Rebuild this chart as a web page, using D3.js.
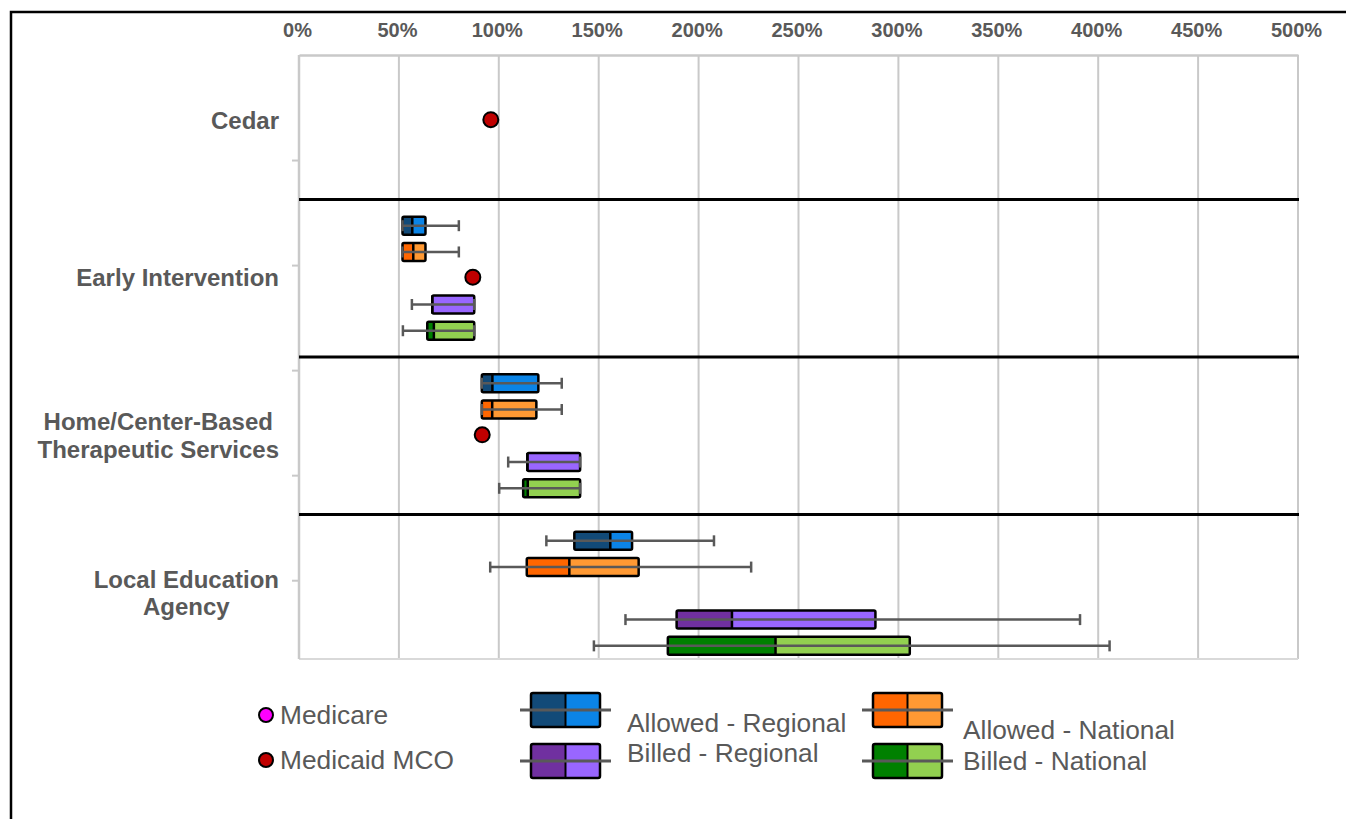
<!DOCTYPE html>
<html>
<head>
<meta charset="utf-8">
<script src="https://cdn.jsdelivr.net/npm/d3@7"></script>
<style>
  html, body { margin: 0; padding: 0; background: #fff; }
  svg { display: block; font-family: "Liberation Sans", Arial, sans-serif; }
</style>
</head>
<body>
<svg id="chart" width="1346" height="819"></svg>
<script>
// Service categories (one block of rows each)
const groups = ["Cedar", "Early Intervention", "Home/Center-Based Therapeutic Services", "Local Education Agency"];
const groupLabelLines = [["Cedar"], ["Early Intervention"], ["Home/Center-Based", "Therapeutic Services"], ["Local Education", "Agency"]];

// Box series: [min, q1, median, q3, max] in percent, one entry per group (null = no data)
const seriesNames = ["Allowed - Regional", "Allowed - National", "Billed - Regional", "Billed - National"];
const allowedRegional = [null, [51.8, 51.8, 56.7, 63.3, 80], [91.5, 91.5, 96.8, 119.8, 131.5], [123.8, 137.8, 155.8, 166.7, 207.7]];
const allowedNational = [null, [51.7, 51.8, 57.2, 63.3, 80], [91.5, 91.5, 96.7, 118.8, 131.5], [95.7, 114, 135.3, 170, 226.3]];
const billedRegional  = [null, [56.5, 66.7, 66.7, 87.7, 87.7], [104.7, 114.3, 114.3, 140.7, 140.7], [163.4, 189, 216.7, 288.5, 390.9]];
const billedNational  = [null, [52, 64.2, 67.5, 87.7, 87.7], [100.2, 112.2, 114.5, 140.7, 140.7], [147.6, 184.6, 238.5, 305.7, 405.7]];

// Point series, percent per group
const medicare = [null, null, null, null];
const medicaidMCO = [96, 87, 91.7, null];

// Axis ticks
const xTicks = [0, 50, 100, 150, 200, 250, 300, 350, 400, 450, 500];

// Colours: [dark (q1-median), light (median-q3)]
const boxColors = {
  "Allowed - Regional": ["#124a78", "#0b84e6"],
  "Allowed - National": ["#ff6600", "#ff9933"],
  "Billed - Regional":  ["#7030a0", "#9966ff"],
  "Billed - National":  ["#008000", "#92d050"]
};
const seriesData = [allowedRegional, allowedNational, billedRegional, billedNational];
// row offset within each group block: boxes at 0,1,3,4 ; points at 2
const seriesRow = [0, 1, 3, 4];

const svg = d3.select("#chart");
const textGrey = "#595959";
const gridGrey = "#c9c9c9";

// Outer frame
svg.append("rect").attr("x", 11).attr("y", 12).attr("width", 1400).attr("height", 900)
  .attr("fill", "none").attr("stroke", "#000").attr("stroke-width", 2.5);

const x = d3.scaleLinear().domain([0, 500]).range([299, 1298]);
const y = d3.scaleLinear().domain([-0.5, 22.5]).range([55, 659]);
const rowOf = (g, r) => g * 6 + r;

// Vertical gridlines
svg.append("g").selectAll("line").data(xTicks.slice(1)).join("line")
  .attr("x1", d => x(d)).attr("x2", d => x(d))
  .attr("y1", 55).attr("y2", 659)
  .attr("stroke", gridGrey).attr("stroke-width", 2);

// Bottom edge of plot
svg.append("line").attr("x1", 299).attr("x2", 1298).attr("y1", 659).attr("y2", 659)
  .attr("stroke", "#d9d9d9").attr("stroke-width", 2);

// Top axis
const xAxis = d3.axisTop(x).tickValues(xTicks).tickFormat(d => d + "%").tickSize(0).tickPadding(18);
const gx = svg.append("g").attr("transform", "translate(0,55)").call(xAxis);
gx.select(".domain").attr("stroke", gridGrey).attr("stroke-width", 2.5);
gx.selectAll("text").attr("fill", textGrey).attr("font-size", 20).attr("font-weight", "bold")
  .attr("font-family", "'Liberation Sans', Arial, sans-serif").attr("dx", -2);

// Left axis with small ticks
const yAxis = d3.axisLeft(y).tickValues([3.5, 7.5, 11.5, 15.5, 19.5]).tickFormat("").tickSize(7);
const gy = svg.append("g").attr("transform", "translate(299,0)").call(yAxis);
gy.select(".domain").attr("stroke", gridGrey).attr("stroke-width", 2.5).attr("d", `M0,${55}V${659}`);
gy.selectAll(".tick line").attr("stroke", gridGrey).attr("stroke-width", 2);

// Group separators
svg.append("g").selectAll("line").data([1, 2, 3]).join("line")
  .attr("x1", 299).attr("x2", 1299)
  .attr("y1", g => y(g * 6 - 1)).attr("y2", g => y(g * 6 - 1))
  .attr("stroke", "#000").attr("stroke-width", 3);

// Group labels: block right-aligned at the axis, lines centred within the block
const lblG = svg.append("g");
const labelRight = 279;
groupLabelLines.forEach((lines, g) => {
  const cy = y(rowOf(g, 2));
  const lh = 27.5;
  const t = lblG.append("text").attr("text-anchor", "middle").attr("fill", textGrey)
    .attr("font-size", 24).attr("font-weight", "bold");
  const spans = lines.map((ln, i) => t.append("tspan")
    .attr("y", cy + (i - (lines.length - 1) / 2) * lh + 8)
    .text(ln));
  const maxW = d3.max(spans, s => s.node().getComputedTextLength());
  spans.forEach(s => s.attr("x", labelRight - maxW / 2));
});

// Box plots
const boxH = 18, capH = 11;
const boxLayer = svg.append("g");
seriesData.forEach((arr, si) => {
  const name = seriesNames[si];
  const [dark, light] = boxColors[name];
  arr.forEach((s, g) => {
    if (!s) return;
    const [mn, q1, md, q3, mx] = s;
    const cy = y(rowOf(g, seriesRow[si]));
    const b = boxLayer.append("g");
    b.append("rect").attr("x", x(q1)).attr("y", cy - boxH / 2)
      .attr("width", x(md) - x(q1)).attr("height", boxH).attr("fill", dark);
    b.append("rect").attr("x", x(md)).attr("y", cy - boxH / 2)
      .attr("width", x(q3) - x(md)).attr("height", boxH).attr("fill", light);
    b.append("line").attr("x1", x(md)).attr("x2", x(md))
      .attr("y1", cy - boxH / 2).attr("y2", cy + boxH / 2)
      .attr("stroke", "#000").attr("stroke-width", 2.5);
    b.append("rect").attr("x", x(q1)).attr("y", cy - boxH / 2)
      .attr("width", x(q3) - x(q1)).attr("height", boxH).attr("rx", 1.5)
      .attr("fill", "none").attr("stroke", "#000").attr("stroke-width", 2.5);
    // whisker drawn across the box
    b.append("line").attr("x1", x(mn)).attr("x2", x(mx)).attr("y1", cy).attr("y2", cy)
      .attr("stroke", "#595959").attr("stroke-width", 2.5);
    [mn, mx].forEach(v => {
      b.append("line").attr("x1", x(v)).attr("x2", x(v))
        .attr("y1", cy - capH / 2).attr("y2", cy + capH / 2)
        .attr("stroke", "#595959").attr("stroke-width", 2.5);
    });
  });
});

// Points
const pts = svg.append("g");
[[medicare, "#ff00ff"], [medicaidMCO, "#c00000"]].forEach(([arr, col]) => {
  arr.forEach((v, g) => {
    if (v == null) return;
    pts.append("circle").attr("cx", x(v)).attr("cy", y(rowOf(g, 2)) - 1).attr("r", 7.5)
      .attr("fill", col).attr("stroke", "#000").attr("stroke-width", 2);
  });
});

// Legend
const leg = svg.append("g").attr("fill", textGrey).attr("font-size", 26.3);
[["Medicare", "#ff00ff", 715], ["Medicaid MCO", "#c00000", 760]].forEach(([name, col, cy]) => {
  leg.append("circle").attr("cx", 266).attr("cy", cy).attr("r", 7)
    .attr("fill", col).attr("stroke", "#000").attr("stroke-width", 2);
  leg.append("text").attr("x", 280).attr("y", cy + 9).text(name);
});

const legBoxes = [
  { name: "Allowed - Regional", bx: 531, cy: 710, tx: 627, ty: 732 },
  { name: "Billed - Regional",  bx: 531, cy: 761, tx: 627, ty: 762 },
  { name: "Allowed - National", bx: 873, cy: 710, tx: 963, ty: 739 },
  { name: "Billed - National",  bx: 873, cy: 761, tx: 963, ty: 770 }
];
legBoxes.forEach(d => {
  const [dark, light] = boxColors[d.name];
  const w = 69, h = 34;
  const g = leg.append("g");
  g.append("rect").attr("x", d.bx).attr("y", d.cy - h / 2).attr("width", w / 2).attr("height", h).attr("fill", dark);
  g.append("rect").attr("x", d.bx + w / 2).attr("y", d.cy - h / 2).attr("width", w / 2).attr("height", h).attr("fill", light);
  g.append("line").attr("x1", d.bx + w / 2).attr("x2", d.bx + w / 2).attr("y1", d.cy - h / 2).attr("y2", d.cy + h / 2)
    .attr("stroke", "#000").attr("stroke-width", 2);
  g.append("rect").attr("x", d.bx).attr("y", d.cy - h / 2).attr("width", w).attr("height", h).attr("rx", 2)
    .attr("fill", "none").attr("stroke", "#000").attr("stroke-width", 2.5);
  g.append("line").attr("x1", d.bx - 11).attr("x2", d.bx + w + 11).attr("y1", d.cy).attr("y2", d.cy)
    .attr("stroke", "#595959").attr("stroke-width", 3);
  leg.append("text").attr("x", d.tx).attr("y", d.ty).text(d.name);
});
</script>
</body>
</html>
